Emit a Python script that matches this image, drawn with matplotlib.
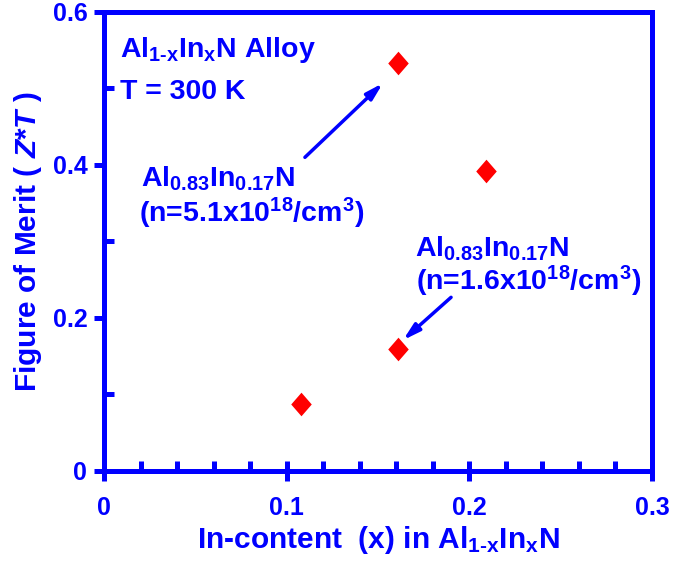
import matplotlib.pyplot as plt
from matplotlib.ticker import MultipleLocator

plt.rcParams['font.family'] = 'Liberation Sans'
plt.rcParams['font.weight'] = 'bold'
plt.rcParams['axes.labelweight'] = 'bold'
plt.rcParams['mathtext.fontset'] = 'custom'
plt.rcParams['mathtext.rm'] = 'Liberation Sans:bold'
plt.rcParams['mathtext.it'] = 'Liberation Sans:bold:italic'
plt.rcParams['mathtext.bf'] = 'Liberation Sans:bold'
plt.rcParams['mathtext.default'] = 'rm'

BLUE = '#0000ff'

# In-content and figure of merit ZT at 300 K
x_in = [0.108, 0.161, 0.161, 0.209]
zt = [0.088, 0.533, 0.160, 0.392]

x_ticks = [0, 0.1, 0.2, 0.3]
x_ticklabels = ['0', '0.1', '0.2', '0.3']
y_ticks = [0, 0.2, 0.4, 0.6]
y_ticklabels = ['0', '0.2', '0.4', '0.6']

# slightly tall diamond
diamond = [(0, 1.15), (1, 0), (0, -1.15), (-1, 0), (0, 1.15)]

fig = plt.figure(figsize=(6.73, 5.65), dpi=100)
ax = fig.add_axes([0.1545, 0.1664, 0.8143, 0.8124])

ax.plot(x_in, zt, linestyle='none', marker=diamond, markersize=17,
        color='#ff0000', markeredgewidth=0)

ax.set_xlim(0, 0.3)
ax.set_ylim(0, 0.6)
ax.set_xticks(x_ticks, labels=x_ticklabels, fontsize=18, fontweight='bold', color=BLUE)
ax.set_yticks(y_ticks, labels=y_ticklabels, fontsize=18, fontweight='bold', color=BLUE)
ax.xaxis.set_minor_locator(MultipleLocator(0.02))
ax.yaxis.set_minor_locator(MultipleLocator(0.1))

for s in ax.spines.values():
    s.set_linewidth(3.6)
    s.set_color(BLUE)
ax.tick_params(axis='x', which='major', direction='inout', length=14, width=3.6,
               color=BLUE, pad=11)
ax.tick_params(axis='x', which='minor', direction='in', length=7, width=3.6, color=BLUE)
ax.tick_params(axis='y', which='major', direction='out', length=7, width=3.6,
               color=BLUE, pad=5)
ax.tick_params(axis='y', which='minor', direction='in', length=7, width=3.6, color=BLUE)

ax.set_xlabel(r'In-content  (x) in Al$_{1\text{-}x}$In$_{x}$N', fontsize=21.5, color=BLUE,
              fontweight='bold', labelpad=3)
ax.set_ylabel(r'Figure of Merit ( $\mathit{Z}$*$\mathit{T}$ )', fontsize=21.5, color=BLUE,
              fontweight='bold', labelpad=6)

ax.text(0.009, 0.541, r'Al$_{1\text{-}x}$In$_{x}$N Alloy', fontsize=20.5, color=BLUE)
ax.text(0.009, 0.486, 'T = 300 K', fontsize=20.5, color=BLUE)

ax.text(0.020, 0.372, r'Al$_{0.83}$In$_{0.17}$N', fontsize=20.5, color=BLUE)
ax.text(0.019, 0.325, r'(n=5.1x10$^{18}$/cm$^{3}$)', fontsize=20.5, color=BLUE)
ax.text(0.170, 0.280, r'Al$_{0.83}$In$_{0.17}$N', fontsize=20.5, color=BLUE)
ax.text(0.171, 0.236, r'(n=1.6x10$^{18}$/cm$^{3}$)', fontsize=20.5, color=BLUE)

arrow = dict(arrowstyle='-|>,head_length=1.0,head_width=0.28', color=BLUE, lw=2.5,
             shrinkA=0, shrinkB=0)
ax.annotate('', xy=(0.1527, 0.507), xytext=(0.110, 0.410), arrowprops=arrow)
ax.annotate('', xy=(0.1637, 0.171), xytext=(0.190, 0.227), arrowprops=arrow)

fig.savefig('out.png', dpi=100)
